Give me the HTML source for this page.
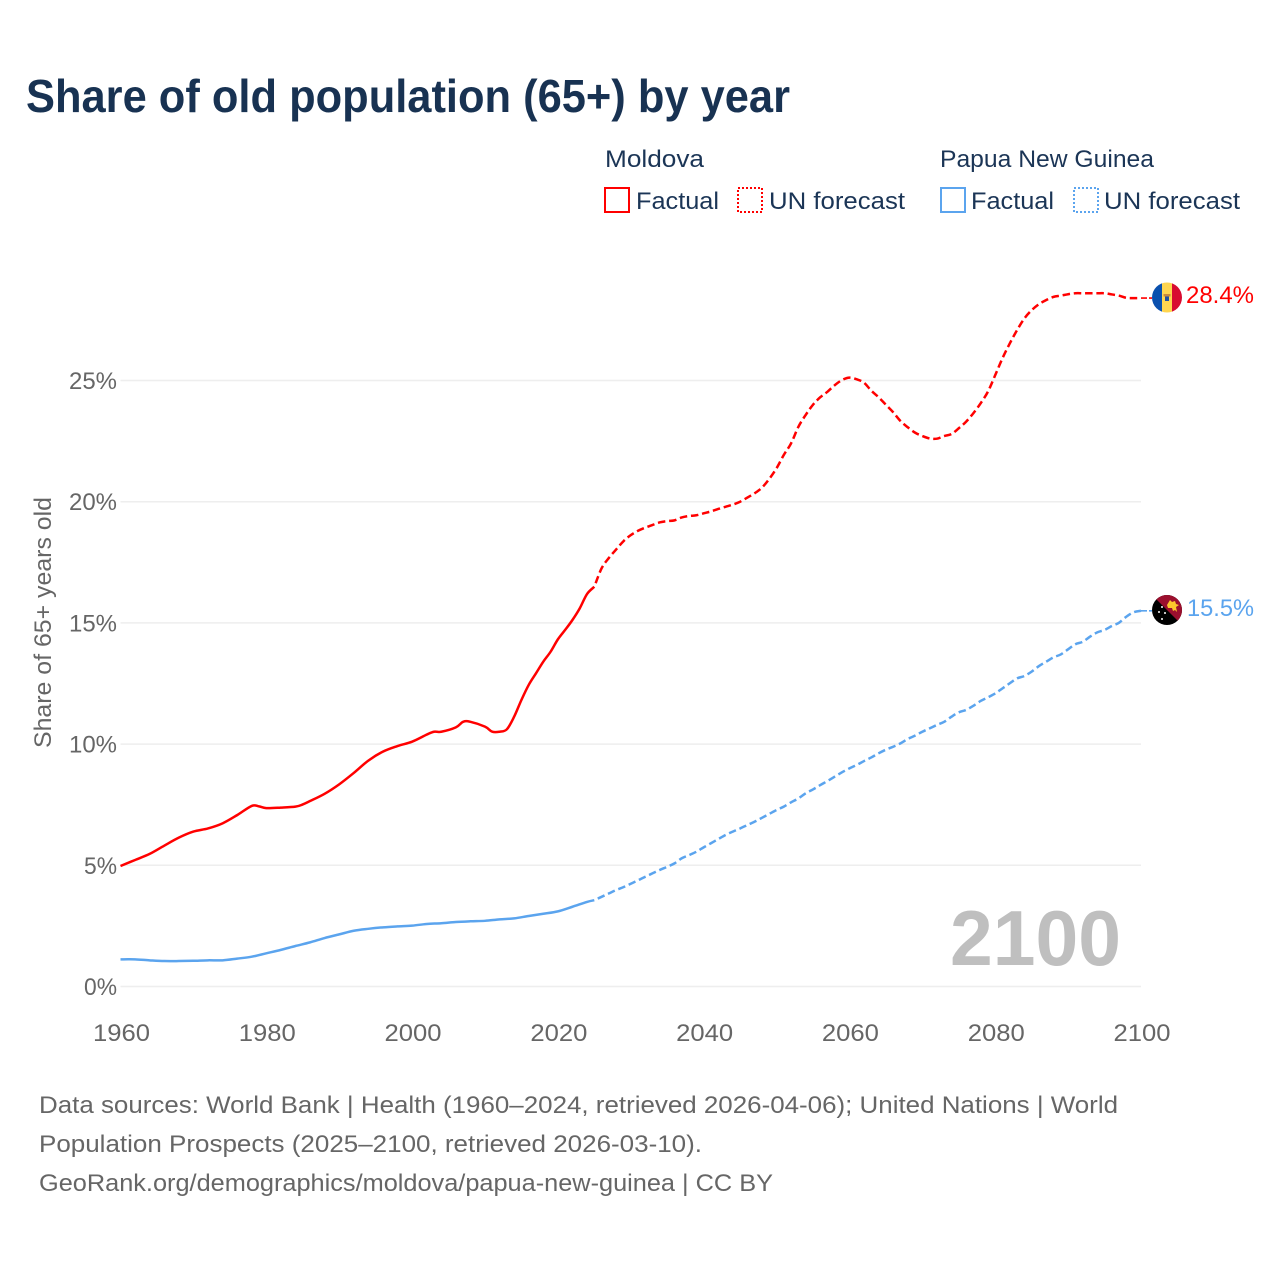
<!DOCTYPE html>
<html lang="en">
<head>
<meta charset="utf-8">
<title>Share of old population (65+) by year</title>
<style>
html,body{margin:0;padding:0;background:#fff;}
svg{display:block;font-family:"Liberation Sans",sans-serif;}
</style>
</head>
<body>
<svg id="chart" xmlns="http://www.w3.org/2000/svg" width="1280" height="1280" viewBox="0 0 1280 1280">
  <rect x="0" y="0" width="1280" height="1280" fill="#ffffff"/>
  <text x="26" y="112" font-size="46" font-weight="700" fill="#183252" textLength="764" lengthAdjust="spacingAndGlyphs">Share of old population (65+) by year</text>

  <g font-size="24" fill="#1b3556">
    <text x="605" y="167" textLength="99" lengthAdjust="spacingAndGlyphs">Moldova</text>
    <text x="940" y="167" textLength="214" lengthAdjust="spacingAndGlyphs">Papua New Guinea</text>
    <rect x="605" y="188" width="24" height="24" fill="none" stroke="#ff0000" stroke-width="2"/>
    <text x="636" y="209" textLength="83" lengthAdjust="spacingAndGlyphs">Factual</text>
    <rect x="738" y="188" width="24" height="24" fill="none" stroke="#ff0000" stroke-width="2" stroke-dasharray="2 2"/>
    <text x="769" y="209" textLength="136" lengthAdjust="spacingAndGlyphs">UN forecast</text>
    <rect x="941" y="188" width="24" height="24" fill="none" stroke="#5ba4ee" stroke-width="2"/>
    <text x="971" y="209" textLength="83" lengthAdjust="spacingAndGlyphs">Factual</text>
    <rect x="1074" y="188" width="24" height="24" fill="none" stroke="#5ba4ee" stroke-width="2" stroke-dasharray="2 2"/>
    <text x="1104" y="209" textLength="136" lengthAdjust="spacingAndGlyphs">UN forecast</text>
  </g>

  <text transform="translate(51,748) rotate(-90)" font-size="24" fill="#666666" textLength="251" lengthAdjust="spacingAndGlyphs">Share of 65+ years old</text>

  <g id="grid"></g>
  <g id="yticks"></g>
  <g id="xticks"></g>

  <text x="950" y="965" font-size="78" font-weight="700" fill="#bfbfbf" textLength="171" lengthAdjust="spacingAndGlyphs">2100</text>

  <g id="series"></g>

  <defs>
    <clipPath id="clip-md"><circle cx="1167" cy="297.5" r="15"/></clipPath>
    <clipPath id="clip-pg"><circle cx="1167" cy="610" r="15"/></clipPath>
  </defs>
  <g clip-path="url(#clip-md)">
    <rect x="1152" y="282" width="10" height="31" fill="#0a50ae"/>
    <rect x="1162" y="282" width="10" height="31" fill="#fed550"/>
    <rect x="1172" y="282" width="10" height="31" fill="#d80b30"/>
    <rect x="1163.5" y="294" width="7" height="2.5" fill="#c88a3e"/>
    <rect x="1165" y="296.5" width="4" height="4.5" fill="#1f4fa0"/>
  </g>
  <g clip-path="url(#clip-pg)">
    <rect x="1152" y="595" width="30" height="30" fill="#000000"/>
    <polygon points="1152,595 1182,595 1182,625" fill="#9c0f2e"/>
    <path d="M1167 605 l3 -5 l2 2 l3 -1 l1 3 l3 1 l-3 2 l1 5 l-2 -2 l-2 1 l-1 -3 l-4 0 z" fill="#fcc72c"/>
    <circle cx="1162" cy="607" r="1" fill="#ffffff"/>
    <circle cx="1159" cy="612" r="1" fill="#ffffff"/>
    <circle cx="1165" cy="613" r="1" fill="#ffffff"/>
    <circle cx="1162" cy="619" r="1" fill="#ffffff"/>
  </g>

  <text x="1186" y="303" font-size="24" fill="#ff0000" textLength="68" lengthAdjust="spacingAndGlyphs">28.4%</text>
  <text x="1187" y="616" font-size="24" fill="#5ba4ee" textLength="67" lengthAdjust="spacingAndGlyphs">15.5%</text>

  <g font-size="24" fill="#666666">
    <text x="39" y="1113" textLength="1079" lengthAdjust="spacingAndGlyphs">Data sources: World Bank | Health (1960–2024, retrieved 2026-04-06); United Nations | World</text>
    <text x="39" y="1152" textLength="663" lengthAdjust="spacingAndGlyphs">Population Prospects (2025–2100, retrieved 2026-03-10).</text>
    <text x="39" y="1191" textLength="734" lengthAdjust="spacingAndGlyphs">GeoRank.org/demographics/moldova/papua-new-guinea | CC BY</text>
  </g>
</svg>

<script>
const yTickValues = [0, 5, 10, 15, 20, 25];
const yTickLabels = ["0%", "5%", "10%", "15%", "20%", "25%"];
const xTickValues = [1960, 1980, 2000, 2020, 2040, 2060, 2080, 2100];
const xTickLabels = ["1960", "1980", "2000", "2020", "2040", "2060", "2080", "2100"];

const moldovaFactualYears = [1960,1962,1964,1966,1968,1970,1972,1974,1976,1978,1979,1980,1982,1984,1985,1986,1988,1990,1992,1994,1996,1998,2000,2002,2003,2004,2006,2007,2008,2010,2011,2012,2013,2014,2015,2016,2017,2018,2019,2020,2021,2022,2023,2024,2025];
const moldovaFactualValues = [4.97,5.22,5.47,5.81,6.14,6.39,6.52,6.73,7.07,7.45,7.43,7.36,7.38,7.42,7.51,7.65,7.95,8.34,8.81,9.32,9.69,9.92,10.1,10.39,10.51,10.51,10.69,10.92,10.92,10.72,10.51,10.51,10.61,11.13,11.82,12.44,12.92,13.4,13.81,14.32,14.71,15.12,15.6,16.19,16.49];

const pngFactualYears = [1960,1962,1964,1966,1968,1970,1972,1974,1976,1978,1980,1982,1984,1986,1988,1990,1992,1994,1996,1998,2000,2002,2004,2006,2008,2010,2012,2014,2016,2018,2020,2022,2024,2025];
const pngFactualValues = [1.12,1.12,1.08,1.05,1.05,1.06,1.08,1.08,1.15,1.23,1.37,1.51,1.67,1.82,2.0,2.15,2.3,2.38,2.44,2.48,2.51,2.58,2.61,2.66,2.69,2.71,2.77,2.81,2.91,3.0,3.1,3.29,3.49,3.56];

const forecastYears = [2025,2026,2027,2028,2029,2030,2031,2032,2033,2034,2035,2036,2037,2038,2039,2040,2041,2042,2043,2044,2045,2046,2047,2048,2049,2050,2051,2052,2053,2054,2055,2056,2057,2058,2059,2060,2061,2062,2063,2064,2065,2066,2067,2068,2069,2070,2071,2072,2073,2074,2075,2076,2077,2078,2079,2080,2081,2082,2083,2084,2085,2086,2087,2088,2089,2090,2091,2092,2093,2094,2095,2096,2097,2098,2099,2100];
const moldovaForecastValues = [16.49,17.25,17.68,18.03,18.37,18.62,18.8,18.93,19.04,19.15,19.2,19.23,19.35,19.41,19.44,19.52,19.6,19.7,19.79,19.88,20.0,20.17,20.35,20.58,20.94,21.38,21.93,22.41,23.09,23.58,24.0,24.31,24.54,24.81,25.02,25.12,25.05,24.91,24.58,24.31,24.0,23.69,23.33,23.07,22.85,22.71,22.61,22.6,22.71,22.79,23.03,23.3,23.65,24.06,24.54,25.22,25.92,26.53,27.08,27.56,27.9,28.15,28.32,28.45,28.5,28.56,28.6,28.6,28.6,28.6,28.6,28.55,28.5,28.41,28.4,28.4];
const pngForecastValues = [3.56,3.7,3.84,3.98,4.1,4.24,4.38,4.53,4.67,4.81,4.94,5.08,5.29,5.42,5.56,5.74,5.91,6.08,6.25,6.39,6.52,6.66,6.8,6.96,7.12,7.28,7.42,7.6,7.76,7.97,8.13,8.31,8.48,8.66,8.84,9.0,9.14,9.3,9.45,9.62,9.77,9.89,10.03,10.21,10.35,10.51,10.65,10.79,10.92,11.13,11.31,11.41,11.58,11.78,11.93,12.09,12.3,12.51,12.71,12.81,12.99,13.22,13.4,13.58,13.7,13.91,14.12,14.22,14.43,14.61,14.71,14.87,15.01,15.26,15.44,15.5];

const NS = "http://www.w3.org/2000/svg";
const RED = "#ff0000";
const BLUE = "#5ba4ee";
const PLOT_LEFT = 120.5;
const PLOT_RIGHT = 1141;
const ZERO_Y = 986.5;
const PX_PER_PCT = 24.24;

function xScale(year) {
  return PLOT_LEFT + (year - 1960) * (PLOT_RIGHT - PLOT_LEFT) / 140;
}
function yScale(value) {
  return ZERO_Y - value * PX_PER_PCT;
}
/* Smooth curve (Catmull-Rom) through the data points, computed from the axis functions. */
function linePath(years, values) {
  const pts = years.map(function (yr, i) {
    return [xScale(yr), yScale(values[i])];
  });
  let d = "M" + pts[0][0].toFixed(2) + " " + pts[0][1].toFixed(2);
  for (let i = 0; i < pts.length - 1; i++) {
    const p0 = pts[Math.max(0, i - 1)];
    const p1 = pts[i];
    const p2 = pts[i + 1];
    const p3 = pts[Math.min(pts.length - 1, i + 2)];
    const c1x = p1[0] + (p2[0] - p0[0]) / 6;
    const c1y = p1[1] + (p2[1] - p0[1]) / 6;
    const c2x = p2[0] - (p3[0] - p1[0]) / 6;
    const c2y = p2[1] - (p3[1] - p1[1]) / 6;
    d += " C" + c1x.toFixed(2) + " " + c1y.toFixed(2) + " " + c2x.toFixed(2) + " " + c2y.toFixed(2) + " " + p2[0].toFixed(2) + " " + p2[1].toFixed(2);
  }
  return d;
}
function makeEl(tag, attrs) {
  const el = document.createElementNS(NS, tag);
  Object.keys(attrs).forEach(function (k) { el.setAttribute(k, attrs[k]); });
  return el;
}

const gridGroup = document.getElementById("grid");
const yTickGroup = document.getElementById("yticks");
yTickValues.forEach(function (v, i) {
  const line = makeEl("line", {x1: PLOT_LEFT, x2: PLOT_RIGHT, y1: yScale(v), y2: yScale(v), stroke: "#eeeeee", "stroke-width": 1.5});
  
  
  gridGroup.appendChild(line);

  const t = makeEl("text", {x: 117, y: yScale(v) + 8.5, "text-anchor": "end", "font-size": 24, fill: "#666666", textLength: yTickLabels[i].length === 3 ? 48 : 33, lengthAdjust: "spacingAndGlyphs"});
  
  
  t.textContent = yTickLabels[i];
  yTickGroup.appendChild(t);
});

const xTickGroup = document.getElementById("xticks");
xTickValues.forEach(function (v, i) {
  const t = makeEl("text", {x: xScale(v) + 1, y: 1041, "text-anchor": "middle", "font-size": 24, fill: "#666666", textLength: 57, lengthAdjust: "spacingAndGlyphs"});
  
  
  t.textContent = xTickLabels[i];
  xTickGroup.appendChild(t);
});

const seriesGroup = document.getElementById("series");
function addLine(name, years, values, color, dashed) {
  const attrs = {d: linePath(years, values), fill: "none", stroke: color, "stroke-width": 2.5, "stroke-linejoin": "round"};
  if (dashed) {
    attrs["stroke-dasharray"] = "7.5 3.8";
    attrs["stroke-dashoffset"] = 7.5;
  }
  const p = makeEl("path", attrs);
  
  
  seriesGroup.appendChild(p);
}
function addConnector(name, value, color) {
  const c = makeEl("line", {x1: PLOT_RIGHT, x2: 1152, y1: yScale(value), y2: yScale(value), stroke: color, "stroke-width": 1.6, "stroke-dasharray": "6 2"});
  
  
  seriesGroup.appendChild(c);
}
addLine("png-forecast-line", forecastYears, pngForecastValues, BLUE, true);
addLine("png-factual-line", pngFactualYears, pngFactualValues, BLUE, false);
addLine("moldova-forecast-line", forecastYears, moldovaForecastValues, RED, true);
addLine("moldova-factual-line", moldovaFactualYears, moldovaFactualValues, RED, false);
addConnector("moldova-flag-connector", moldovaForecastValues[moldovaForecastValues.length - 1], RED);
addConnector("png-flag-connector", pngForecastValues[pngForecastValues.length - 1], BLUE);
</script>
</body>
</html>
